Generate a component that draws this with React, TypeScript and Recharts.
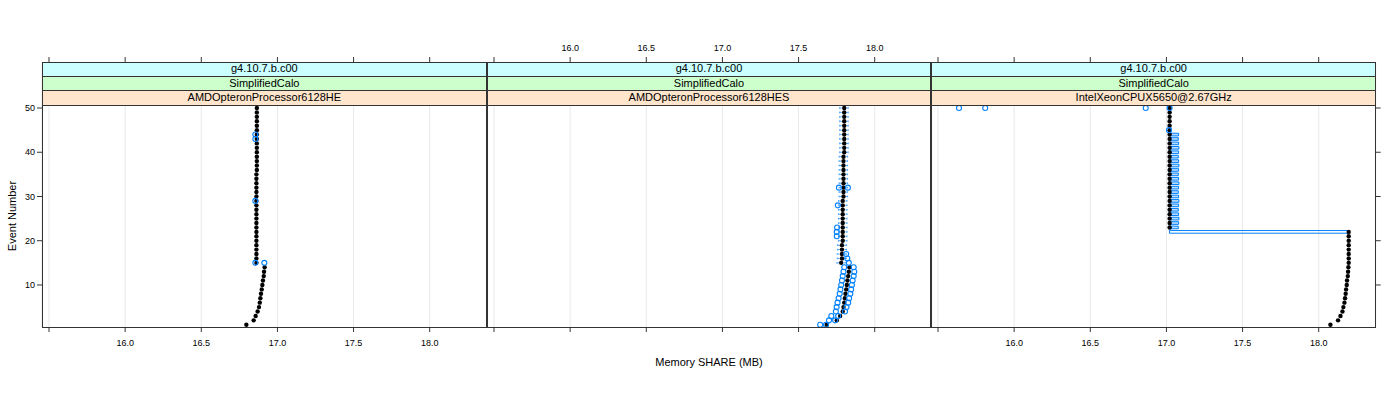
import React from 'react';
import {
  ScatterChart,
  Scatter,
  XAxis,
  YAxis,
  CartesianGrid,
  ReferenceArea,
  ReferenceLine,
} from 'recharts';

const FONT = '"Liberation Sans", Arial, Helvetica, sans-serif';

// ---------- labels ----------
const STRIP_TOP = 'g4.10.7.b.c00';
const STRIP_MID = 'SimplifiedCalo';
const MACHINES = [
  'AMDOpteronProcessor6128HE',
  'AMDOpteronProcessor6128HES',
  'IntelXeonCPUX5650@2.67GHz',
];
const X_TITLE = 'Memory SHARE (MB)';
const Y_TITLE = 'Event Number';
const X_TICKS = [15.5, 16.0, 16.5, 17.0, 17.5, 18.0];
const Y_TICKS = [10, 20, 30, 40, 50];

// ---------- data ----------
const EVENTS = [
  1, 2, 3, 4, 5, 6, 7, 8, 9, 10, 11, 12, 13, 14, 15, 16, 17, 18, 19, 20, 21, 22, 23, 24, 25,
  26, 27, 28, 29, 30, 31, 32, 33, 34, 35, 36, 37, 38, 39, 40, 41, 42, 43, 44, 45, 46, 47, 48, 49, 50,
];

// black points (event 1..50)
const HE_BLACK = [
  16.796, 16.844, 16.857, 16.870, 16.879, 16.884, 16.888, 16.892, 16.897, 16.901, 16.905, 16.910, 16.912, 16.916,
  16.862, 16.862, 16.862, 16.862, 16.862, 16.862, 16.862, 16.862, 16.862, 16.862, 16.862, 16.862, 16.862, 16.862,
  16.862, 16.862, 16.862, 16.862, 16.862, 16.862, 16.862,
  16.865, 16.865, 16.865, 16.865, 16.865, 16.865, 16.865, 16.865, 16.865, 16.865, 16.865, 16.865, 16.865, 16.865, 16.865,
];
const HES_BLACK = [
  17.685, 17.751, 17.773, 17.790, 17.795, 17.800, 17.804, 17.808, 17.813, 17.817, 17.821, 17.826, 17.830, 17.834,
  17.780, 17.785, 17.785, 17.785, 17.785,
  17.790, 17.790, 17.790, 17.790, 17.790, 17.790, 17.790, 17.790, 17.790, 17.790,
  17.795, 17.795, 17.795, 17.795, 17.795, 17.795, 17.795, 17.795, 17.795, 17.795,
  17.800, 17.800, 17.800, 17.800, 17.800, 17.800, 17.800, 17.800, 17.800, 17.800, 17.800,
];
const INTEL_BLACK = [
  18.077, 18.127, 18.143, 18.156, 18.162, 18.169, 18.173, 18.177, 18.180, 18.184, 18.186, 18.191, 18.193, 18.195,
  18.197, 18.197, 18.197, 18.197, 18.197, 18.197, 18.197, 18.197,
  17.021, 17.021, 17.021, 17.021, 17.021, 17.021, 17.021, 17.021, 17.021, 17.021, 17.021, 17.021, 17.021, 17.021,
  17.021, 17.021, 17.021, 17.021, 17.021, 17.021, 17.021, 17.021, 17.021, 17.021, 17.021, 17.021, 17.021, 17.021,
];

// blue outliers
const HE_OUT_EVENT = [15, 15, 29, 43, 44];
const HE_OUT_X = [16.855, 16.914, 16.855, 16.855, 16.855];

const HES_OUT_EVENT = [
  1, 1, 2, 2, 3, 3, 4, 4, 5, 5, 6, 6, 7, 7, 8, 8, 9, 9, 10, 10, 11, 11, 12, 12, 13, 13, 14, 14,
  15, 16, 17, 21, 22, 23, 28, 32, 32,
];
const HES_OUT_X = [
  17.642, 17.680, 17.700, 17.740, 17.715, 17.760, 17.745, 17.805, 17.750, 17.815, 17.756, 17.826,
  17.763, 17.832, 17.770, 17.840, 17.775, 17.845, 17.780, 17.850, 17.785, 17.855, 17.790, 17.862,
  17.795, 17.866, 17.800, 17.862,
  17.830, 17.820, 17.813, 17.751, 17.751, 17.753, 17.758, 17.765, 17.824,
];

const INTEL_OUT_EVENT = [50, 50, 50, 50, 45];
const INTEL_OUT_X = [15.638, 15.810, 16.864, 17.021, 17.017];

// blue whiskers (panel 2, events 15..50)
const HES_WHISK_EVENT = [
  15, 16, 17, 18, 19, 20, 21, 22, 23, 24, 25, 26, 27, 28, 29, 30, 31, 32, 33, 34, 35, 36, 37, 38,
  39, 40, 41, 42, 43, 44, 45, 46, 47, 48, 49, 50,
];
const HES_WHISK_LO = [
  17.752, 17.754, 17.754, 17.756, 17.756, 17.762, 17.762, 17.762, 17.762, 17.762, 17.762, 17.762,
  17.762, 17.762, 17.762, 17.766, 17.766, 17.766, 17.766, 17.766, 17.766, 17.766, 17.766, 17.766,
  17.766, 17.770, 17.770, 17.770, 17.770, 17.770, 17.770, 17.770, 17.770, 17.770, 17.770, 17.770,
];
const HES_WHISK_HI = [
  17.814, 17.814, 17.814, 17.815, 17.815, 17.818, 17.818, 17.818, 17.818, 17.818, 17.818, 17.818,
  17.818, 17.818, 17.818, 17.822, 17.822, 17.822, 17.822, 17.822, 17.822, 17.822, 17.822, 17.822,
  17.822, 17.826, 17.826, 17.826, 17.826, 17.826, 17.826, 17.826, 17.826, 17.826, 17.826, 17.826,
];

// blue boxes (panel 3)
const INTEL_BOX_EVENT = [
  22, 23, 24, 25, 26, 27, 28, 29, 30, 31, 32, 33, 34, 35, 36, 37, 38, 39, 40, 41, 42, 43, 44,
];
const INTEL_BOX_LO = [
  17.020, 17.020, 17.020, 17.020, 17.020, 17.020, 17.020, 17.020, 17.020, 17.020, 17.020, 17.020,
  17.020, 17.020, 17.020, 17.020, 17.020, 17.020, 17.020, 17.020, 17.020, 17.020, 17.020,
];
const INTEL_BOX_HI = [
  18.197, 17.078, 17.080, 17.082, 17.080, 17.078, 17.080, 17.082, 17.080, 17.078, 17.080, 17.082,
  17.080, 17.078, 17.080, 17.082, 17.080, 17.078, 17.080, 17.082, 17.080, 17.078, 17.080,
];

// ---------- helpers ----------
const X_DOMAIN: [number, number] = [15.454, 18.374];
const Y_DOMAIN: [number, number] = [0.5, 60.4];

const PANEL_LEFT = [42, 486.67, 931.33];
const PANEL_W = 444.67;
const PLOT_TOP = 62;
const PLOT_BOTTOM = 327;
const STRIP_H = 14.67;

const pts = (xs: number[], ys: number[]) => xs.map((x, i) => ({ x, y: ys[i] }));

const fmtLabel = (v: number) => (v === 15.5 ? '' : v.toFixed(1));
const blank = () => '';

const BlackDot = (p: any) => <circle cx={p.cx} cy={p.cy} r={2.2} fill="#000" />;
const BlueRing = (p: any) => (
  <circle cx={p.cx} cy={p.cy} r={2.5} fill="none" stroke="#0080ff" strokeWidth={1.1} />
);
const Nothing = () => <g />;

type PanelProps = {
  idx: number;
  black: number[];
  outX: number[];
  outE: number[];
  boxE?: number[];
  boxLo?: number[];
  boxHi?: number[];
  whE?: number[];
  whLo?: number[];
  whHi?: number[];
  yAxis: 'left' | 'right' | 'none';
  topLabels: boolean;
  bottomLabels: boolean;
};

const tickStyle = { fontSize: 9, fill: '#000', fontFamily: FONT };
const WHISK = '#4da6ff';

function Panel(props: PanelProps) {
  const { idx, black, outX, outE, boxE, boxLo, boxHi, whE, whLo, whHi, yAxis, topLabels, bottomLabels } = props;
  const chartTop = 20;
  const chartH = 360;
  const axisH = 30;
  const marginTop = PLOT_TOP - chartTop - axisH;
  const marginBottom = chartTop + chartH - PLOT_BOTTOM - axisH;
  const yw = 40;
  const margin = {
    top: marginTop,
    bottom: marginBottom,
    left: yAxis === 'left' ? 50 - yw : 50,
    right: yAxis === 'right' ? 50 - yw : 50,
  };
  const blackPts = pts(black, EVENTS);
  return (
    <div style={{ position: 'absolute', left: PANEL_LEFT[idx] - 50, top: chartTop }}>
      <ScatterChart width={PANEL_W + 100} height={chartH} margin={margin}>
        <CartesianGrid xAxisId="b" horizontal={false} stroke="#e8e8e8" strokeWidth={1} />
        <XAxis
          xAxisId="b"
          type="number"
          dataKey="x"
          orientation="bottom"
          domain={X_DOMAIN}
          allowDataOverflow
          ticks={X_TICKS}
          interval={0}
          height={axisH}
          axisLine={false}
          tickLine={{ stroke: '#333' }}
          tickSize={5}
          tickMargin={8}
          tick={tickStyle}
          tickFormatter={bottomLabels ? fmtLabel : blank}
        />
        <XAxis
          xAxisId="t"
          type="number"
          dataKey="x"
          orientation="top"
          domain={X_DOMAIN}
          allowDataOverflow
          ticks={X_TICKS}
          interval={0}
          height={axisH}
          axisLine={false}
          tickLine={{ stroke: '#333' }}
          tickSize={5}
          tickMargin={6}
          tick={tickStyle}
          tickFormatter={topLabels ? fmtLabel : blank}
        />
        <YAxis
          type="number"
          dataKey="y"
          domain={Y_DOMAIN}
          allowDataOverflow
          ticks={Y_TICKS}
          interval={0}
          hide={yAxis === 'none'}
          orientation={yAxis === 'right' ? 'right' : 'left'}
          width={yw}
          axisLine={false}
          tickLine={{ stroke: '#333' }}
          tickSize={5}
          tickMargin={2}
          tick={tickStyle}
          tickFormatter={yAxis === 'left' ? (v: number) => String(v) : blank}
        />
        {boxE &&
          boxE.map((e, i) => (
            <ReferenceArea
              key={'box' + i}
              xAxisId="b"
              x1={boxLo![i]}
              x2={boxHi![i]}
              y1={e - 0.3}
              y2={e + 0.3}
              fill="#a9d3ff"
              fillOpacity={i === 0 ? 0 : 0.8}
              stroke="#0080ff"
              strokeWidth={1}
              ifOverflow="visible"
            />
          ))}
        <Scatter
          xAxisId="t"
          data={blackPts}
          shape={Nothing}
          isAnimationActive={false}
        />
        <Scatter
          xAxisId="b"
          data={blackPts}
          shape={BlackDot}
          isAnimationActive={false}
        />
        {whE &&
          whE.map((e, i) => (
            <ReferenceLine
              key={'wh' + i}
              xAxisId="b"
              segment={[
                { x: whLo![i], y: e },
                { x: whHi![i], y: e },
              ]}
              stroke={WHISK}
              strokeDasharray="2 1.5"
              strokeWidth={1}
              ifOverflow="visible"
            />
          ))}
        {whE &&
          whE.map((e, i) => (
            <ReferenceLine
              key={'capl' + i}
              xAxisId="b"
              segment={[
                { x: whLo![i], y: e - 0.2 },
                { x: whLo![i], y: e + 0.2 },
              ]}
              stroke={WHISK}
              strokeWidth={1}
              ifOverflow="visible"
            />
          ))}
        {whE &&
          whE.map((e, i) => (
            <ReferenceLine
              key={'caph' + i}
              xAxisId="b"
              segment={[
                { x: whHi![i], y: e - 0.2 },
                { x: whHi![i], y: e + 0.2 },
              ]}
              stroke={WHISK}
              strokeWidth={1}
              ifOverflow="visible"
            />
          ))}
        <Scatter
          xAxisId="b"
          data={pts(outX, outE)}
          shape={BlueRing}
          isAnimationActive={false}
        />
      </ScatterChart>
    </div>
  );
}

function Strips({ idx }: { idx: number }) {
  const labels = [STRIP_TOP, STRIP_MID, MACHINES[idx]];
  const colors = ['#ccffff', '#ccffcc', '#ffe5cc'];
  return (
    <>
      {labels.map((t, k) => (
        <div
          key={k}
          style={{
            position: 'absolute',
            left: PANEL_LEFT[idx],
            top: PLOT_TOP + k * STRIP_H,
            width: PANEL_W,
            height: STRIP_H,
            background: colors[k],
            borderBottom: '1px solid #333',
            boxSizing: 'border-box',
            fontFamily: FONT,
            fontSize: 11,
            lineHeight: STRIP_H - 1 + 'px',
            textAlign: 'center',
            color: '#000',
            whiteSpace: 'nowrap',
          }}
        >
          {t}
        </div>
      ))}
      <div
        style={{
          position: 'absolute',
          left: PANEL_LEFT[idx],
          top: PLOT_TOP,
          width: PANEL_W,
          height: PLOT_BOTTOM - PLOT_TOP + 1,
          border: '1px solid #333',
          boxSizing: 'border-box',
          pointerEvents: 'none',
        }}
      />
    </>
  );
}

export default function App() {
  return (
    <div
      style={{
        position: 'absolute',
        left: 0,
        top: 0,
        width: 1400,
        height: 400,
        background: '#fff',
        overflow: 'hidden',
        fontFamily: FONT,
      }}
    >
      <Panel
        idx={0}
        black={HE_BLACK}
        outX={HE_OUT_X}
        outE={HE_OUT_EVENT}
        yAxis="left"
        topLabels={false}
        bottomLabels={true}
      />
      <Panel
        idx={1}
        black={HES_BLACK}
        outX={HES_OUT_X}
        outE={HES_OUT_EVENT}
        whE={HES_WHISK_EVENT}
        whLo={HES_WHISK_LO}
        whHi={HES_WHISK_HI}
        yAxis="none"
        topLabels={true}
        bottomLabels={false}
      />
      <Panel
        idx={2}
        black={INTEL_BLACK}
        outX={INTEL_OUT_X}
        outE={INTEL_OUT_EVENT}
        boxE={INTEL_BOX_EVENT}
        boxLo={INTEL_BOX_LO}
        boxHi={INTEL_BOX_HI}
        yAxis="right"
        topLabels={false}
        bottomLabels={true}
      />
      <Strips idx={0} />
      <Strips idx={1} />
      <Strips idx={2} />
      <div
        style={{
          position: 'absolute',
          left: 42,
          width: 1334,
          top: 356,
          textAlign: 'center',
          fontSize: 11,
          color: '#000',
        }}
      >
        {X_TITLE}
      </div>
      <div
        style={{
          position: 'absolute',
          left: 12 - 50,
          top: 216 - 7,
          width: 100,
          height: 14,
          lineHeight: '14px',
          textAlign: 'center',
          fontSize: 11,
          color: '#000',
          transform: 'rotate(-90deg)',
          whiteSpace: 'nowrap',
        }}
      >
        {Y_TITLE}
      </div>
    </div>
  );
}
